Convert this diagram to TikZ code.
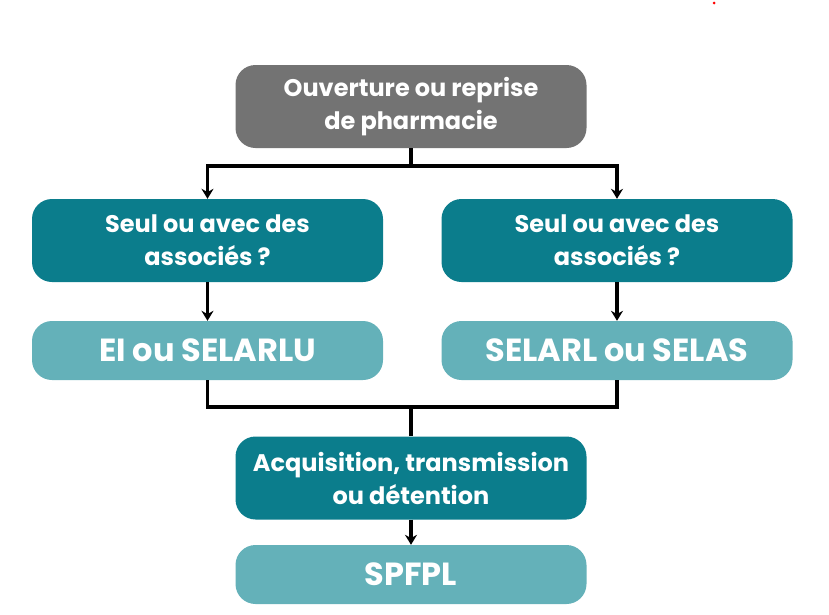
\documentclass[tikz,border=0pt]{standalone}
\usepackage{fontspec}
\setmainfont{Poppins}
\usetikzlibrary{arrows.meta}
\definecolor{grayb}{HTML}{737373}
\definecolor{tealb}{HTML}{0B7D8C}
\definecolor{lightb}{HTML}{64B1B9}
\tikzset{
 box/.style={rounded corners=20pt, minimum width=351pt, text=white, font=\bfseries\fontsize{24}{33}\selectfont, align=center, inner sep=0pt},
 big/.style={box, minimum height=83pt},
 small/.style={box, minimum height=59pt, fill=lightb, font=\bfseries\fontsize{32}{36}\selectfont},
 conn/.style={line width=3.5pt, black},
 arr/.style={conn, -{Stealth[length=10pt,width=12pt]}}
}
\begin{document}
\begin{tikzpicture}[x=1pt,y=-1pt]
\useasboundingbox (0,0) rectangle (829,614);
\fill[red] (714,3) circle (1.5);
\node[big, fill=grayb] (top) at (411,106.5) {Ouverture ou reprise\\de pharmacie};
\node[big, fill=tealb] (l1) at (207.5,240.5) {Seul ou avec des\\associés ?};
\node[big, fill=tealb] (r1) at (617,240.5) {Seul ou avec des\\associés ?};
\node[small] (l2) at (207.5,350.5) {EI ou SELARLU};
\node[small] (r2) at (617,350.5) {SELARL ou SELAS};
\node[big, fill=tealb] (acq) at (411,478) {Acquisition, transmission\\ou détention};
\node[small] (sp) at (411,574.5) {SPFPL};
\coordinate (j1) at (411,166);
\coordinate (j2) at (411,407);
\draw[conn] (top.south) -- (j1);
\draw[arr] (j1) -| (l1.north);
\draw[arr] (j1) -| (r1.north);
\draw[arr] (l1.south) -- (l2.north);
\draw[arr] (r1.south) -- (r2.north);
\draw[conn] (l2.south) |- (j2) -| (r2.south);
\draw[conn] (j2) -- (acq.north);
\draw[arr] (acq.south) -- (sp.north);
\end{tikzpicture}
\end{document}
